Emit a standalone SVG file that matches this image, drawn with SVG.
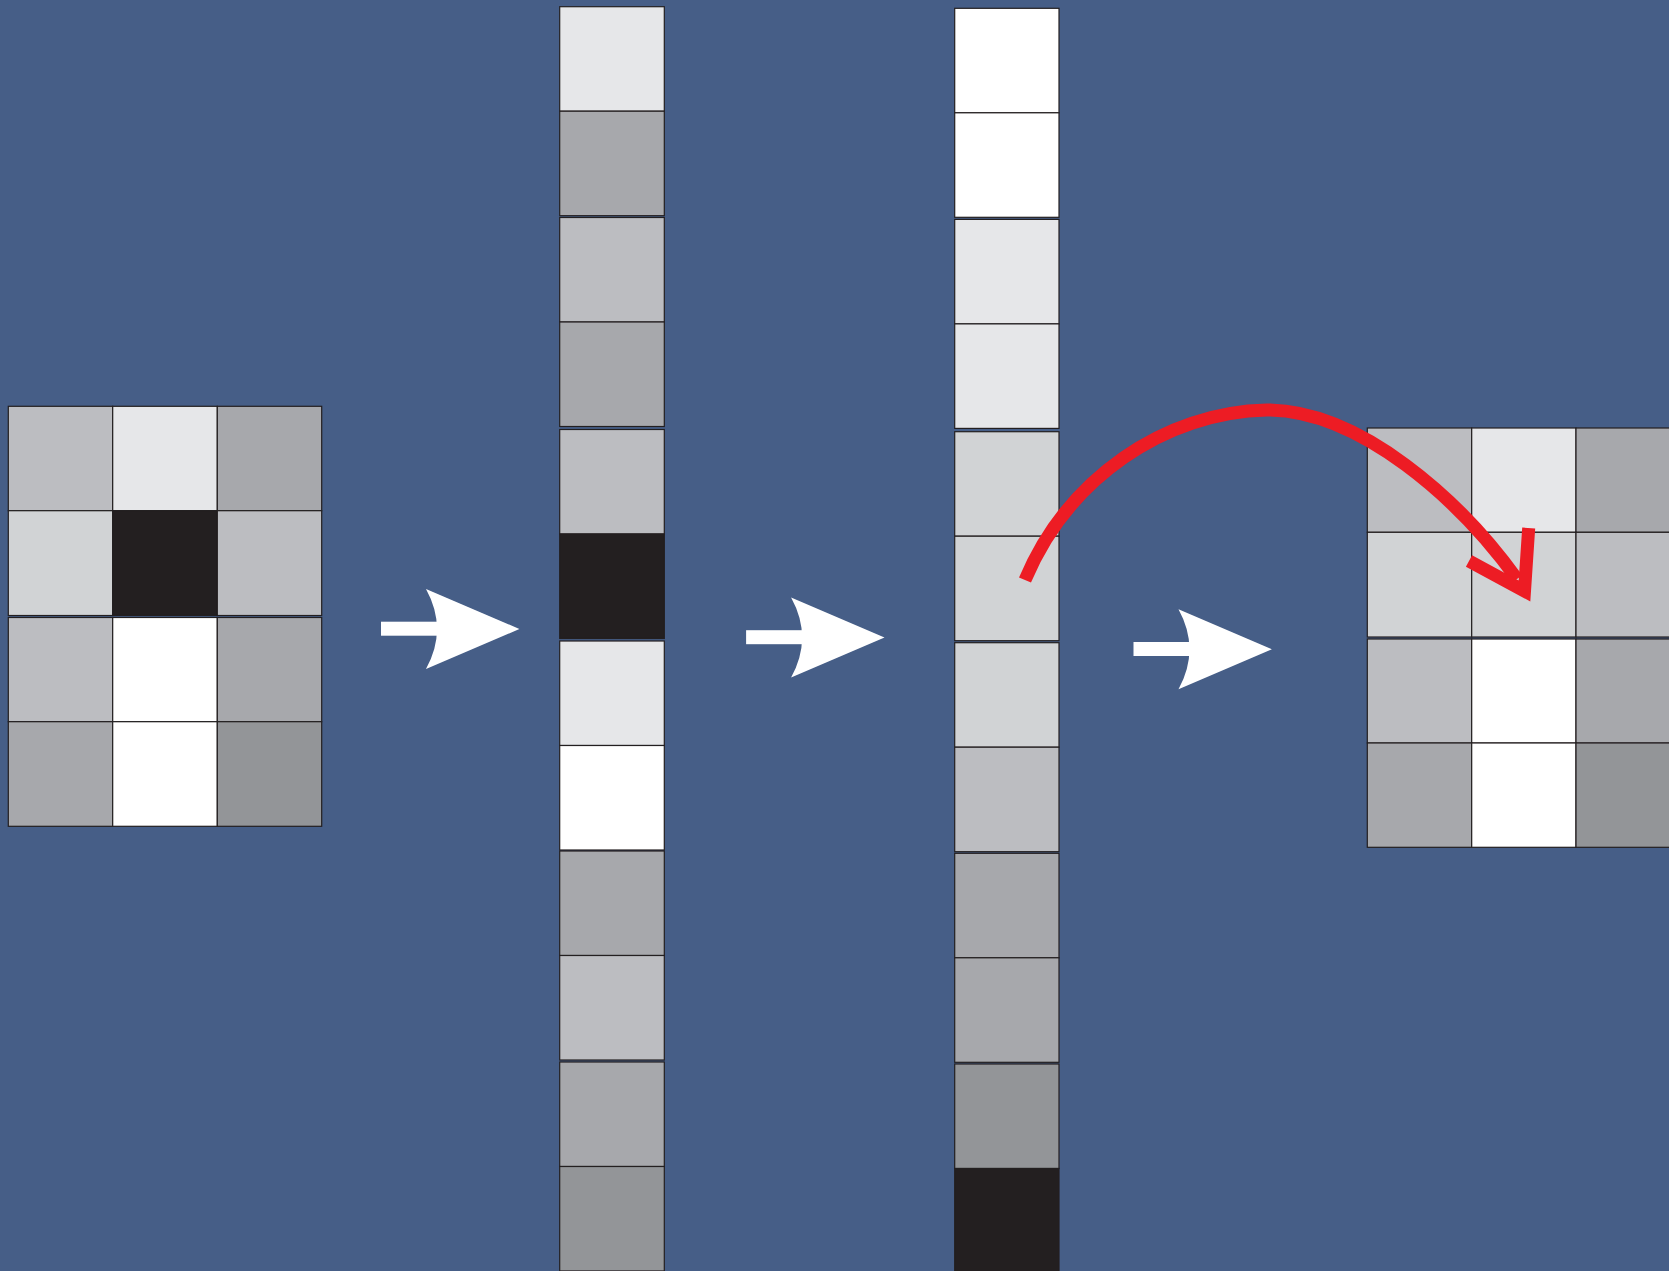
<svg xmlns="http://www.w3.org/2000/svg" width="1669" height="1271" viewBox="0 0 1669 1271">
<style>
.c{stroke:#231f20;stroke-width:1.2}
.g1{fill:#ffffff}.g2{fill:#e6e7e9}.g3{fill:#d1d3d5}.g4{fill:#bcbdc1}.g5{fill:#a7a8ac}.g6{fill:#939598}.g7{fill:#231f20}
.red{fill:none;stroke:#ed1c24;stroke-width:13}
</style>
<defs>
<g id="wa">
<rect x="381" y="621.7" width="62" height="14" fill="#ffffff"/>
<path d="M426,589 L519.4,629 L426,669 Q448,629 426,589 Z" fill="#ffffff"/>
</g>
</defs>
<rect x="0" y="0" width="1669" height="1271" fill="#465e87"/>

<g id="input-grid">
<rect class="c g4" x="8.3" y="406.3" width="104.4" height="104.4"/>
<rect class="c g2" x="112.7" y="406.3" width="104.6" height="104.4"/>
<rect class="c g5" x="217.3" y="406.3" width="104.4" height="104.4"/>
<rect class="c g3" x="8.3" y="510.7" width="104.4" height="104.8"/>
<rect class="c g7" x="112.7" y="510.7" width="104.6" height="104.8"/>
<rect class="c g4" x="217.3" y="510.7" width="104.4" height="104.8"/>
<rect class="c g4" x="8.3" y="617.5" width="104.4" height="104.2"/>
<rect class="c g1" x="112.7" y="617.5" width="104.6" height="104.2"/>
<rect class="c g5" x="217.3" y="617.5" width="104.4" height="104.2"/>
<rect class="c g5" x="8.3" y="721.7" width="104.4" height="104.6"/>
<rect class="c g1" x="112.7" y="721.7" width="104.6" height="104.6"/>
<rect class="c g6" x="217.3" y="721.7" width="104.4" height="104.6"/>
</g>

<g id="flattened-column">
<rect class="c g2" x="559.7" y="6.7" width="104.6" height="104.5"/>
<rect class="c g5" x="559.7" y="111.2" width="104.6" height="104.5"/>
<rect class="c g4" x="559.7" y="217.5" width="104.6" height="104.5"/>
<rect class="c g5" x="559.7" y="322" width="104.6" height="104.5"/>
<rect class="c g4" x="559.7" y="429.5" width="104.6" height="104.5"/>
<rect class="c g7" x="559.7" y="534" width="104.6" height="104.5"/>
<rect class="c g2" x="559.7" y="641" width="104.6" height="104.5"/>
<rect class="c g1" x="559.7" y="745.5" width="104.6" height="104.5"/>
<rect class="c g5" x="559.7" y="851" width="104.6" height="104.5"/>
<rect class="c g4" x="559.7" y="955.5" width="104.6" height="104.5"/>
<rect class="c g5" x="559.7" y="1062" width="104.6" height="104.5"/>
<rect class="c g6" x="559.7" y="1166.5" width="104.6" height="104.5"/>
</g>

<g id="sorted-column">
<rect class="c g1" x="954.7" y="8.3" width="104.3" height="104.5"/>
<rect class="c g1" x="954.7" y="112.8" width="104.3" height="104.5"/>
<rect class="c g2" x="954.7" y="219.4" width="104.3" height="104.5"/>
<rect class="c g2" x="954.7" y="323.9" width="104.3" height="104.5"/>
<rect class="c g3" x="954.7" y="431.7" width="104.3" height="104.5"/>
<rect class="c g3" x="954.7" y="536.2" width="104.3" height="104.5"/>
<rect class="c g3" x="954.7" y="642.7" width="104.3" height="104.5"/>
<rect class="c g4" x="954.7" y="747.2" width="104.3" height="104.5"/>
<rect class="c g5" x="954.7" y="853.3" width="104.3" height="104.5"/>
<rect class="c g5" x="954.7" y="957.8" width="104.3" height="104.5"/>
<rect class="c g6" x="954.7" y="1064" width="104.3" height="104.5"/>
<rect class="c g7" x="954.7" y="1168.5" width="104.3" height="104.5"/>
</g>

<g id="output-grid">
<rect class="c g4" x="1367.3" y="428" width="104.4" height="104.3"/>
<rect class="c g2" x="1471.7" y="428" width="104.3" height="104.3"/>
<rect class="c g5" x="1576" y="428" width="104.4" height="104.3"/>
<rect class="c g3" x="1367.3" y="532.3" width="104.4" height="104.7"/>
<rect class="c g3" x="1471.7" y="532.3" width="104.3" height="104.7"/>
<rect class="c g4" x="1576" y="532.3" width="104.4" height="104.7"/>
<rect class="c g4" x="1367.3" y="639" width="104.4" height="104"/>
<rect class="c g1" x="1471.7" y="639" width="104.3" height="104"/>
<rect class="c g5" x="1576" y="639" width="104.4" height="104"/>
<rect class="c g5" x="1367.3" y="743" width="104.4" height="104.3"/>
<rect class="c g1" x="1471.7" y="743" width="104.3" height="104.3"/>
<rect class="c g6" x="1576" y="743" width="104.4" height="104.3"/>
</g>

<g id="connectors">
<use href="#wa"/>
<use href="#wa" transform="translate(365.1,8.5)"/>
<use href="#wa" transform="translate(752.5,20.3)"/>
<path class="red" d="M1025,580 C1068,478 1165,412 1267,410 C1360,410 1460,500 1517,579"/>
<polyline class="red" points="1469,561 1524.5,591 1528.7,528" stroke-miterlimit="10"/>
</g>
</svg>
